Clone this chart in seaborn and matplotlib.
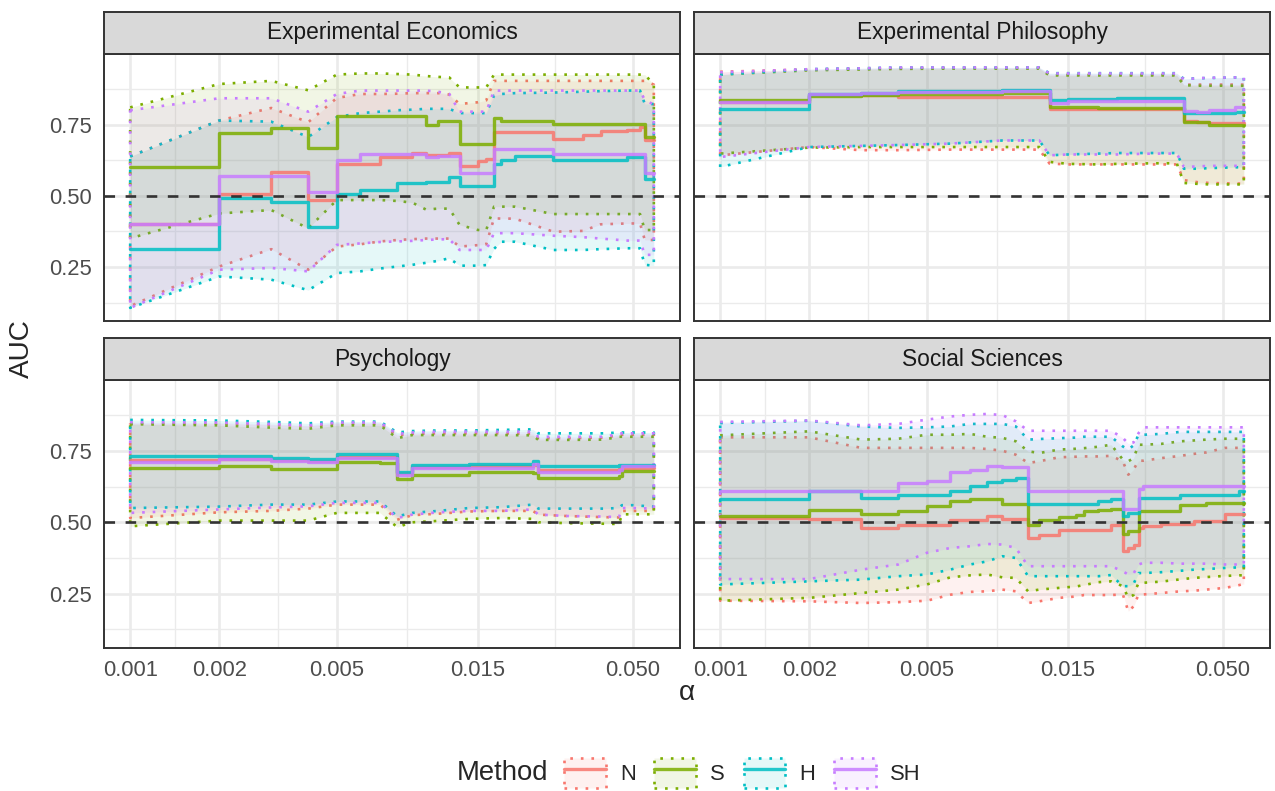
import numpy as np
import pandas as pd
import matplotlib
matplotlib.use('Agg')
import matplotlib.pyplot as plt
from matplotlib.patches import Patch
from matplotlib.lines import Line2D
import seaborn as sns

methods = ['N', 'S', 'H', 'SH']
colors = ['#F8766D', '#7CAE00', '#00BFC4', '#C77CFF']
fields = ['Experimental Economics', 'Experimental Philosophy', 'Psychology', 'Social Sciences']

x_ticks = [0.001, 0.002, 0.005, 0.015, 0.050]
x_labels = ['0.001', '0.002', '0.005', '0.015', '0.050']
y_ticks = [0.25, 0.50, 0.75]
y_labels = ['0.25', '0.50', '0.75']

# Experimental Economics
ee_alpha = [0.001, 0.002, 0.003, 0.004, 0.005, 0.006, 0.007, 0.008, 0.009, 0.010, 0.011, 0.012, 0.013,
            0.015, 0.016, 0.017, 0.018, 0.020, 0.027, 0.034, 0.039, 0.048, 0.053, 0.055, 0.059]
ee_N = [.400, .508, .584, .487, .610, .610, .636, .636, .650, .643, .643, .650, .605, .622, .630, .725, .725, .725, .700, .712, .727, .730, .741, .697, .697]
ee_S = [.601, .721, .737, .667, .779, .779, .779, .779, .779, .749, .762, .762, .680, .680, .680, .774, .763, .763, .752, .752, .752, .752, .752, .707, .707]
ee_H = [.313, .493, .479, .390, .508, .520, .520, .546, .546, .548, .548, .566, .534, .534, .534, .613, .624, .638, .627, .627, .627, .636, .636, .558, .558]
ee_SH = [.400, .570, .570, .514, .624, .648, .648, .648, .648, .636, .638, .638, .580, .580, .580, .663, .663, .663, .648, .648, .648, .648, .648, .581, .581]
ee_N_hi = [.638, .764, .808, .758, .843, .857, .857, .858, .860, .860, .860, .855, .822, .828, .835, .903, .903, .903, .903, .903, .903, .903, .903, .903, .890]
ee_S_hi = [.810, .892, .903, .870, .925, .929, .929, .927, .925, .920, .917, .915, .880, .880, .880, .925, .925, .925, .925, .925, .925, .925, .925, .925, .890]
ee_H_hi = [.638, .764, .760, .706, .776, .790, .795, .800, .802, .805, .805, .805, .790, .790, .790, .851, .857, .860, .862, .865, .867, .869, .869, .822, .822]
ee_SH_hi = [.800, .842, .842, .795, .857, .869, .869, .869, .869, .869, .865, .857, .795, .795, .795, .869, .869, .869, .869, .869, .869, .869, .869, .836, .820]
ee_N_lo = [.113, .252, .313, .241, .322, .330, .340, .345, .348, .350, .350, .350, .322, .327, .330, .421, .420, .420, .374, .377, .400, .403, .403, .345, .345]
ee_S_lo = [.351, .438, .450, .386, .485, .485, .485, .482, .476, .452, .455, .455, .398, .380, .380, .462, .462, .462, .436, .436, .436, .436, .436, .380, .380]
ee_H_lo = [.107, .217, .206, .169, .229, .235, .245, .252, .258, .265, .272, .281, .255, .255, .257, .314, .339, .339, .310, .310, .313, .316, .316, .258, .255]
ee_SH_lo = [.107, .241, .247, .235, .328, .333, .338, .340, .342, .345, .347, .348, .310, .310, .310, .369, .369, .369, .360, .355, .350, .343, .343, .293, .293]

# Experimental Philosophy
ep_alpha = [0.001, 0.002, 0.003, 0.004, 0.006, 0.009, 0.012, 0.013, 0.015, 0.019, 0.022, 0.029, 0.035,
            0.037, 0.041, 0.045, 0.055, 0.059]
ep_N = [.830, .853, .853, .848, .848, .848, .848, .805, .805, .803, .805, .805, .805, .762, .760, .755, .755, .755]
ep_S = [.836, .851, .853, .857, .857, .859, .859, .813, .813, .808, .808, .808, .808, .758, .758, .750, .750, .750]
ep_H = [.805, .857, .860, .866, .868, .871, .871, .836, .840, .840, .843, .843, .843, .790, .790, .790, .793, .793]
ep_SH = [.828, .857, .860, .863, .865, .866, .866, .826, .834, .834, .834, .834, .834, .799, .793, .800, .810, .810]
ep_N_hi = [.935, .943, .945, .947, .948, .948, .948, .925, .925, .925, .925, .925, .925, .890, .890, .890, .890, .890]
ep_S_hi = [.925, .940, .943, .945, .946, .946, .946, .922, .922, .922, .922, .922, .922, .888, .886, .886, .886, .886]
ep_H_hi = [.925, .944, .947, .950, .950, .950, .950, .930, .930, .930, .930, .930, .930, .910, .912, .913, .915, .915]
ep_SH_hi = [.933, .944, .947, .950, .950, .950, .950, .929, .929, .929, .929, .929, .929, .909, .912, .914, .915, .915]
ep_N_lo = [.642, .671, .660, .660, .662, .662, .662, .613, .610, .610, .610, .610, .610, .555, .548, .545, .543, .543]
ep_S_lo = [.648, .669, .671, .671, .671, .671, .671, .619, .612, .610, .612, .614, .614, .545, .542, .540, .540, .540]
ep_H_lo = [.601, .671, .675, .678, .683, .694, .694, .642, .645, .648, .650, .650, .650, .595, .595, .597, .600, .600]
ep_SH_lo = [.636, .671, .675, .678, .683, .694, .694, .642, .645, .645, .645, .648, .648, .601, .603, .605, .605, .605]

# Psychology
ps_alpha = [0.001, 0.002, 0.003, 0.004, 0.005, 0.007, 0.008, 0.009, 0.011, 0.014, 0.018, 0.023, 0.024,
            0.030, 0.040, 0.045, 0.046, 0.050, 0.059]
ps_N = [.719, .722, .720, .716, .730, .728, .672, .695, .695, .696, .696, .700, .683, .683, .683, .688, .690, .690, .690]
ps_S = [.692, .699, .688, .688, .711, .709, .653, .667, .667, .678, .678, .672, .657, .657, .657, .662, .680, .680, .680]
ps_H = [.733, .733, .727, .723, .739, .739, .678, .700, .700, .704, .704, .716, .696, .696, .696, .700, .702, .702, .702]
ps_SH = [.713, .721, .716, .710, .727, .725, .667, .690, .690, .692, .692, .704, .678, .678, .678, .685, .696, .696, .696]
ps_N_hi = [.847, .846, .842, .838, .846, .846, .805, .810, .812, .812, .812, .810, .795, .795, .797, .805, .807, .807, .807]
ps_S_hi = [.844, .840, .832, .828, .840, .840, .795, .806, .806, .806, .806, .805, .789, .789, .790, .800, .800, .800, .800]
ps_H_hi = [.859, .857, .852, .847, .853, .853, .815, .820, .822, .822, .824, .826, .812, .812, .812, .815, .815, .815, .815]
ps_SH_hi = [.851, .850, .845, .840, .850, .850, .810, .815, .818, .818, .818, .818, .800, .800, .800, .810, .812, .812, .812]
ps_N_lo = [.515, .535, .540, .548, .562, .562, .509, .525, .530, .538, .540, .540, .527, .522, .518, .517, .540, .540, .540]
ps_S_lo = [.486, .506, .506, .506, .533, .533, .483, .500, .505, .512, .515, .512, .500, .497, .495, .494, .528, .528, .528]
ps_H_lo = [.550, .555, .562, .562, .573, .573, .521, .533, .540, .550, .553, .562, .548, .548, .548, .550, .560, .560, .555]
ps_SH_lo = [.533, .545, .552, .556, .568, .568, .515, .527, .535, .540, .540, .545, .527, .522, .520, .518, .550, .550, .548]

# Social Sciences
ss_alpha = [0.001, 0.002, 0.003, 0.004, 0.005, 0.006, 0.007, 0.008, 0.009, 0.010, 0.011, 0.012, 0.014,
            0.016, 0.017, 0.019, 0.021, 0.023, 0.024, 0.025, 0.026, 0.027, 0.031, 0.036, 0.040, 0.044,
            0.051, 0.057, 0.059]
ss_N = [.515, .513, .480, .489, .489, .509, .509, .521, .513, .513, .445, .454, .474, .474, .474, .474, .492, .398, .410, .419, .480, .486, .494, .494, .504, .504, .529, .529, .529]
ss_S = [.521, .542, .529, .539, .556, .574, .583, .583, .564, .564, .490, .507, .518, .527, .539, .544, .548, .459, .471, .471, .541, .541, .541, .562, .562, .568, .568, .568, .568]
ss_H = [.582, .611, .585, .595, .597, .611, .626, .640, .647, .655, .564, .564, .564, .564, .564, .574, .582, .521, .533, .533, .585, .585, .585, .595, .595, .595, .595, .609, .609]
ss_SH = [.611, .611, .611, .638, .646, .676, .685, .696, .693, .693, .609, .609, .609, .609, .609, .609, .609, .548, .548, .548, .618, .626, .626, .626, .626, .626, .626, .626, .626]
ss_N_hi = [.798, .798, .761, .761, .761, .761, .761, .757, .751, .737, .708, .714, .728, .730, .731, .731, .733, .714, .667, .685, .716, .716, .725, .733, .740, .745, .761, .761, .761]
ss_S_hi = [.805, .819, .790, .793, .807, .807, .810, .800, .796, .784, .749, .743, .755, .758, .760, .765, .772, .720, .714, .725, .772, .772, .775, .784, .787, .790, .793, .793, .793]
ss_H_hi = [.848, .856, .836, .831, .833, .836, .845, .845, .845, .836, .790, .792, .795, .797, .800, .800, .800, .766, .755, .770, .807, .807, .810, .817, .817, .817, .817, .817, .817]
ss_SH_hi = [.852, .857, .840, .845, .860, .871, .877, .880, .876, .854, .821, .821, .821, .821, .821, .821, .821, .796, .776, .780, .813, .833, .833, .833, .833, .833, .833, .833, .833]
ss_N_lo = [.225, .223, .217, .220, .225, .246, .256, .258, .264, .258, .217, .223, .235, .240, .245, .245, .245, .247, .188, .205, .247, .247, .252, .258, .260, .264, .270, .280, .284]
ss_S_lo = [.225, .235, .252, .264, .282, .307, .314, .317, .307, .305, .258, .264, .270, .275, .280, .290, .293, .276, .235, .245, .288, .288, .292, .300, .305, .308, .312, .314, .314]
ss_H_lo = [.282, .293, .299, .311, .317, .334, .352, .363, .381, .375, .311, .311, .311, .311, .311, .311, .315, .276, .276, .284, .322, .322, .325, .330, .334, .336, .340, .342, .342]
ss_SH_lo = [.301, .301, .334, .352, .393, .410, .416, .424, .422, .410, .346, .346, .346, .346, .346, .346, .346, .328, .317, .320, .352, .358, .358, .355, .355, .355, .352, .352, .352]

panel_data = {
    'Experimental Economics': (ee_alpha, [(ee_N, ee_N_lo, ee_N_hi), (ee_S, ee_S_lo, ee_S_hi),
                                          (ee_H, ee_H_lo, ee_H_hi), (ee_SH, ee_SH_lo, ee_SH_hi)]),
    'Experimental Philosophy': (ep_alpha, [(ep_N, ep_N_lo, ep_N_hi), (ep_S, ep_S_lo, ep_S_hi),
                                           (ep_H, ep_H_lo, ep_H_hi), (ep_SH, ep_SH_lo, ep_SH_hi)]),
    'Psychology': (ps_alpha, [(ps_N, ps_N_lo, ps_N_hi), (ps_S, ps_S_lo, ps_S_hi),
                              (ps_H, ps_H_lo, ps_H_hi), (ps_SH, ps_SH_lo, ps_SH_hi)]),
    'Social Sciences': (ss_alpha, [(ss_N, ss_N_lo, ss_N_hi), (ss_S, ss_S_lo, ss_S_hi),
                                   (ss_H, ss_H_lo, ss_H_hi), (ss_SH, ss_SH_lo, ss_SH_hi)]),
}

frames = []
for field, (alpha, series) in panel_data.items():
    for m, (mean, lo, hi) in zip(methods, series):
        frames.append(pd.DataFrame({'field': field, 'Method': m, 'alpha': alpha,
                                    'AUC': mean, 'lo': lo, 'hi': hi}))
df = pd.concat(frames, ignore_index=True)

sns.set_theme(style='white')
plt.rcParams['font.family'] = ['Liberation Sans', 'DejaVu Sans']

W, H = 1275, 791
fig = plt.figure(figsize=(W / 100, H / 100), dpi=100)


def box(l, t, w, h):
    return [l / W, 1 - (t + h) / H, w / W, h / H]


PW, PH, SH = 576, 267.5, 41.5
positions = [(104, 53.5), (694, 53.5), (104, 380), (694, 380)]
border = '#333333'
grid_c = '#EBEBEB'

amin, amax = np.log10(df['alpha'].min()), np.log10(df['alpha'].max())
span = amax - amin
xlim = (10 ** (amin - 0.05 * span), 10 ** (amax + 0.05 * span))
minor_x = [np.sqrt(a * b) for a, b in zip(x_ticks[:-1], x_ticks[1:])]

for i, (field, (px, py)) in enumerate(zip(fields, positions)):
    ax = fig.add_axes(box(px, py, PW, PH))
    strip = fig.add_axes(box(px, py - SH, PW, SH))
    strip.set_facecolor('#D9D9D9')
    strip.set_xticks([])
    strip.set_yticks([])
    for s in strip.spines.values():
        s.set_color(border)
        s.set_linewidth(1.4)
    strip.text(0.5, 0.5, field, ha='center', va='center', fontsize=16.4,
               color='#1A1A1A', transform=strip.transAxes)

    sub = df[df['field'] == field]
    for m, c in zip(methods, colors):
        s = sub[sub['Method'] == m]
        x = s['alpha'].to_numpy()
        lo = s['lo'].to_numpy()
        hi = s['hi'].to_numpy()
        ax.fill_between(x, lo, hi, color=c, alpha=0.1, lw=0, zorder=2)
        ox = np.concatenate([x, x[::-1], x[:1]])
        oy = np.concatenate([hi, lo[::-1], hi[:1]])
        ax.plot(ox, oy, color=c, lw=1.9, dashes=(1, 3), zorder=2)

    sns.lineplot(data=sub, x='alpha', y='AUC', hue='Method', hue_order=methods,
                 palette=colors, estimator=None, drawstyle='steps-post',
                 lw=2.4, alpha=0.85, legend=False, ax=ax, zorder=3)
    ax.axhline(0.5, color='#333333', lw=1.9, dashes=(4, 4), zorder=4)

    ax.set_xscale('log')
    ax.set_xlim(*xlim)
    ax.set_ylim(0.061, 0.999)
    ax.set_xticks(x_ticks)
    ax.set_xticklabels(x_labels)
    ax.set_xticks(minor_x, minor=True)
    ax.xaxis.set_minor_formatter(matplotlib.ticker.NullFormatter())
    ax.set_yticks(y_ticks)
    ax.set_yticklabels(y_labels)
    ax.set_yticks([0.125, 0.375, 0.625, 0.875], minor=True)
    ax.set_xlabel('')
    ax.set_ylabel('')
    ax.set_facecolor('white')
    ax.set_axisbelow(True)
    ax.grid(which='major', color=grid_c, lw=1.9, zorder=0)
    ax.grid(which='minor', color=grid_c, lw=0.95, zorder=0)
    for s in ax.spines.values():
        s.set_color(border)
        s.set_linewidth(1.4)
    ax.tick_params(which='minor', length=0)
    ax.tick_params(which='major', length=5, width=1.4, color=border, pad=4,
                   labelsize=15.8, labelcolor='#4D4D4D')
    if i < 2:
        ax.tick_params(axis='x', which='major', length=0, labelbottom=False)
    if i % 2 == 1:
        ax.tick_params(axis='y', which='major', length=0, labelleft=False)

fig.text(22 / W, 1 - 349 / H, 'AUC', rotation=90, ha='center', va='center', fontsize=20.2)
fig.text(687 / W, 1 - 693 / H, 'α', ha='center', va='center', fontsize=20.2)

fig.text(457 / W, 1 - 773 / H, 'Method', ha='left', va='center', fontsize=19.8)
handles = []
for c in colors:
    rgba = matplotlib.colors.to_rgba(c, 0.1)
    patch = Patch(facecolor=rgba, edgecolor=c, linewidth=1.9, linestyle=(0, (1, 3)))
    line = Line2D([], [], color=c, lw=2.4, alpha=0.85)
    handles.append((patch, line))
fig.legend(handles, methods, loc='center left', bbox_to_anchor=(564 / W, 1 - 773 / H),
           ncol=4, frameon=False, fontsize=15.8, handlelength=1.9, handleheight=1.7,
           handletextpad=0.65, columnspacing=0.85, borderpad=0, borderaxespad=0)

fig.savefig('out.png', dpi=100)
